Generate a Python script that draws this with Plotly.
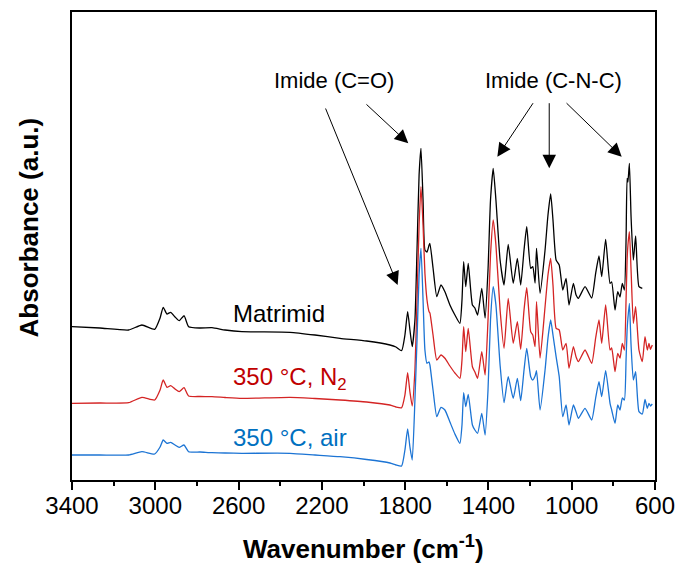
import plotly.graph_objects as go

# ---------------- data ----------------
WN_MATRIMID = [3400, 3266, 3128, 3064, 3003, 2977, 2962, 2944, 2926, 2905, 2885, 2862, 2840, 2785, 2728,
               2665, 2584, 2353, 2233, 2113, 1985, 1873, 1844, 1817, 1801, 1788, 1777, 1766, 1753, 1743,
               1733, 1724, 1714, 1705, 1695, 1685, 1681, 1666, 1648, 1628, 1609, 1585, 1561, 1537, 1527,
               1519, 1509, 1497, 1477, 1465, 1452, 1432, 1416, 1402, 1390, 1377, 1364, 1344, 1325, 1305,
               1281, 1261, 1245, 1229, 1216, 1197, 1187, 1176, 1169, 1152, 1128, 1114, 1101, 1090, 1075,
               1060, 1043, 1027, 1013, 992, 979, 968, 936, 904, 885, 869, 856, 837, 816, 808,
               792, 779, 768, 757, 747, 739, 734, 730, 723, 715, 704, 693, 677, 661]
WN_TREATED = WN_MATRIMID + [648, 637, 629, 622, 613]

ABS_MATRIMID = [1.533, 1.52, 1.50, 1.55, 1.507, 1.62, 1.727, 1.66, 1.677, 1.63, 1.593, 1.643, 1.533, 1.52, 1.523,
                1.50, 1.483, 1.477, 1.45, 1.417, 1.39, 1.35, 1.33, 1.293, 1.45, 1.683, 1.50, 1.333, 1.60, 2.30,
                3.05, 3.317, 2.80, 2.30, 2.28, 2.35, 2.367, 2.12, 1.833, 1.95, 1.883, 1.75, 1.65, 1.567, 1.80,
                2.183, 1.933, 2.167, 1.75, 1.72, 1.65, 1.917, 1.62, 2.10, 2.80, 3.117, 2.80, 2.20, 1.95, 2.357,
                1.967, 2.217, 1.95, 2.30, 2.533, 2.117, 2.133, 1.97, 2.317, 1.867, 2.30, 2.65, 2.86, 2.60, 2.20,
                2.15, 1.90, 2.017, 1.75, 1.967, 1.85, 1.817, 1.933, 1.82, 2.067, 2.24, 2.033, 2.407, 1.967, 1.98,
                1.70, 1.883, 1.83, 1.967, 1.90, 2.40, 3.017, 2.98, 3.167, 2.633, 2.20, 2.44, 1.933, 1.917]

ABS_N2 = [0.767, 0.77, 0.773, 0.827, 0.80, 0.90, 1.00, 0.927, 0.943, 0.91, 0.883, 0.923, 0.84, 0.835, 0.833,
          0.825, 0.817, 0.827, 0.815, 0.80, 0.78, 0.75, 0.73, 0.723, 0.85, 1.073, 0.88, 0.74, 1.10, 1.80,
          2.55, 2.933, 2.55, 2.067, 1.80, 1.683, 1.67, 1.45, 1.20, 1.25, 1.217, 1.14, 1.07, 1.017, 1.20,
          1.533, 1.283, 1.517, 1.133, 1.08, 1.017, 1.283, 1.05, 1.60, 2.25, 2.60, 2.35, 1.70, 1.317, 1.817,
          1.367, 1.583, 1.307, 1.70, 1.923, 1.483, 1.45, 1.333, 1.783, 1.22, 1.733, 2.05, 2.217, 1.95, 1.517,
          1.50, 1.30, 1.367, 1.117, 1.333, 1.23, 1.183, 1.30, 1.167, 1.42, 1.60, 1.367, 1.75, 1.30, 1.32,
          1.083, 1.267, 1.22, 1.367, 1.30, 1.80, 2.20, 2.35, 2.483, 2.10, 1.567, 1.733, 1.30, 1.183,
          1.433, 1.30, 1.367, 1.307, 1.35]

ABS_AIR = [0.25, 0.25, 0.25, 0.283, 0.26, 0.33, 0.40, 0.367, 0.377, 0.35, 0.327, 0.35, 0.283, 0.28, 0.273,
           0.27, 0.267, 0.267, 0.25, 0.233, 0.205, 0.17, 0.15, 0.14, 0.30, 0.51, 0.33, 0.20, 0.80, 1.40,
           2.05, 2.317, 1.80, 1.30, 1.167, 1.18, 1.15, 0.90, 0.633, 0.727, 0.70, 0.58, 0.46, 0.367, 0.55,
           0.873, 0.733, 0.857, 0.55, 0.50, 0.467, 0.667, 0.45, 0.90, 1.60, 1.933, 1.75, 1.15, 0.773, 1.033,
           0.817, 1.017, 0.793, 1.10, 1.317, 1.033, 1.00, 1.04, 1.093, 0.70, 1.10, 1.42, 1.60, 1.45, 1.233,
           1.033, 0.633, 0.75, 0.55, 0.75, 0.68, 0.617, 0.717, 0.60, 0.82, 0.983, 0.833, 1.093, 0.767, 0.70,
           0.567, 0.75, 0.70, 0.82, 0.80, 1.20, 1.50, 1.62, 1.767, 1.35, 1.00, 1.083, 0.683, 0.66,
           0.807, 0.717, 0.767, 0.74, 0.76]

SERIES_NAMES = ["Matrimid", "350 °C, N<sub>2</sub>", "350 °C, air"]
X_TICKS = [3400, 3000, 2600, 2200, 1800, 1400, 1000, 600]
X_TICK_LABELS = [str(v) for v in X_TICKS]

# ---------------- figure ----------------
FONT = "Liberation Sans, Arial, sans-serif"
LINE_COLORS = ["#000000", "#d42424", "#1c74d4"]
TEXT_COLORS = ["#000000", "#c00000", "#0070c0"]

fig = go.Figure()
for wn, ab, name, col in zip([WN_MATRIMID, WN_TREATED, WN_TREATED],
                             [ABS_MATRIMID, ABS_N2, ABS_AIR], SERIES_NAMES, LINE_COLORS):
    fig.add_trace(go.Scatter(x=wn, y=ab, mode="lines", name=name,
                             line=dict(color=col, width=1.3, shape="spline", smoothing=0.5),
                             showlegend=False))

annotations = []
# curve labels
for name, col, yv in zip(SERIES_NAMES, TEXT_COLORS, [1.67, 1.02, 0.43]):
    annotations.append(dict(x=2636, y=yv, xref="x", yref="y", text=name, showarrow=False,
                            xanchor="left", yanchor="middle",
                            font=dict(family=FONT, size=24, color=col)))
# group labels
annotations.append(dict(x=2142, y=4.0, xref="x", yref="y", text="Imide (C=O)", showarrow=False,
                        font=dict(family=FONT, size=22, color="black")))
annotations.append(dict(x=1087, y=4.0, xref="x", yref="y", text="Imide (C-N-C)", showarrow=False,
                        font=dict(family=FONT, size=22, color="black")))
# arrows: (tail_x, tail_y, head_x, head_y)
arrows = [(2185, 3.73, 1836, 1.95), (1993, 3.77, 1785, 3.367),
          (1181, 3.783, 1357, 3.233), (1108, 3.783, 1108, 3.117), (1032, 3.783, 760, 3.233)]
for tx, ty, hx, hy in arrows:
    annotations.append(dict(x=hx, y=hy, ax=tx, ay=ty, xref="x", yref="y", axref="x", ayref="y",
                            text="", showarrow=True, arrowhead=2, arrowsize=2.7, arrowwidth=1,
                            arrowcolor="black", standoff=0, startstandoff=0))
# axis titles
annotations.append(dict(x=0.5, y=-0.145, xref="paper", yref="paper",
                        text="<b>Wavenumber (cm<sup>-1</sup>)</b>", showarrow=False,
                        xanchor="center", yanchor="middle",
                        font=dict(family=FONT, size=26, color="black")))
annotations.append(dict(x=-0.073, y=0.5406, xref="paper", yref="paper",
                        text="<b>Absorbance (a.u.)</b>", showarrow=False, textangle=-90,
                        xanchor="center", yanchor="middle",
                        font=dict(family=FONT, size=26, color="black")))

fig.update_layout(
    width=676, height=564,
    margin=dict(l=72, r=21, t=12, b=84, autoexpand=False),
    paper_bgcolor="white", plot_bgcolor="white",
    font=dict(family=FONT, size=24, color="black"),
    annotations=annotations,
    xaxis=dict(range=[3400, 600], tickvals=X_TICKS, ticktext=X_TICK_LABELS, automargin=False,
               ticks="outside", ticklen=8, tickwidth=1.5, tickcolor="black", ticklabelstandoff=-5,
               minor=dict(dtick=200, tick0=600, ticks="outside", ticklen=4, tickwidth=1.5,
                          tickcolor="black", showgrid=False),
               showline=True, linewidth=2, linecolor="black", mirror=True,
               showgrid=False, zeroline=False,
               tickfont=dict(family=FONT, size=24, color="black")),
    yaxis=dict(range=[0, 4.68], showticklabels=False, ticks="", showgrid=False, zeroline=False,
               automargin=False,
               showline=True, linewidth=2, linecolor="black", mirror=True),
)

fig.write_html("out.html")
